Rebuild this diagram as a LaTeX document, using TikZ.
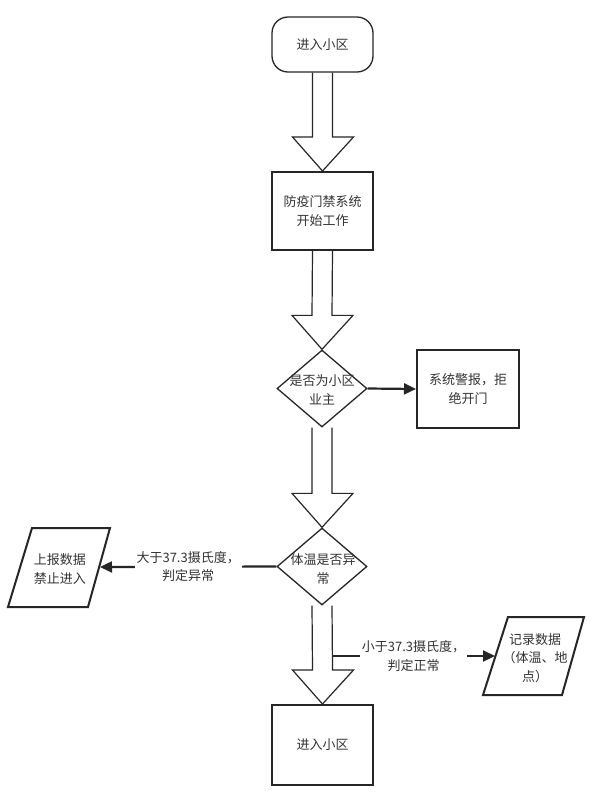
\documentclass[tikz,border=0pt]{standalone}
\usepackage{fontspec}
\setmainfont{Noto Sans CJK SC}
\usetikzlibrary{shapes.geometric,calc,arrows.meta}
\definecolor{linec}{HTML}{262626}
\definecolor{txtc}{HTML}{333333}
\tikzset{
  txt/.style={font=\fontsize{13}{18.5}\selectfont, text=txtc, align=center, inner sep=0pt},
  box/.style={draw=linec, line width=2pt, minimum width=101pt, minimum height=78pt, inner sep=0pt, txt},
  term/.style={draw=linec, line width=1.3pt, rounded corners=16pt, minimum width=101pt, minimum height=55pt, inner sep=0pt, txt},
  dia/.style={diamond, draw=linec, line width=1.3pt, minimum width=90pt, minimum height=77pt, inner sep=0pt},
  barrow/.style={draw=linec, line width=1.2pt, line join=miter},
  conn/.style={draw=linec, line width=2.2pt, -{Triangle[length=12pt,width=11pt]}},
  lbl/.style={txt, fill=white, inner xsep=2pt, inner ysep=1pt},
  para/.style={draw=linec, line width=2pt, line join=miter}
}
\newcommand\blockarr[2]{%
  \draw[barrow] ($(#1.south)+(-10,0)$) -- ($(#2.north)+(-10,-34)$) -- ($(#2.north)+(-30,-34)$) -- (#2.north) -- ($(#2.north)+(31,-34)$) -- ($(#2.north)+(10,-34)$) -- ($(#1.south)+(10,0)$);}
\begin{document}
\begin{tikzpicture}[x=1pt,y=-1pt]
\useasboundingbox (0,0) rectangle (593,812);
\fill[white] (0,0) rectangle (593,812);

\node[term] (start) at (322.5,44.5) {进入小区};
\node[box] (sys) at (322.5,211) {防疫门禁系统\\开始工作};
\node[dia] (d1) at (322,388.5) {};
\node[txt] (d1t) at (322,390) {是否为小区\\业主};
\node[box, minimum width=102pt] (alarm) at (468,389) {系统警报，拒\\绝开门};
\node[dia] (d2) at (322,566.5) {};
\node[txt] (d2t) at (323,569) {体温是否异\\常};
\node[box, minimum height=80pt] (enter) at (322.5,745) {进入小区};

% left parallelogram
\draw[para] (32,528) -- (110,528) -- (88,607) -- (8,607) -- cycle;
\node[txt] (rep) at (60,569) {上报数据\\禁止进入};
\coordinate (repE) at (100,567);
% right parallelogram
\draw[para] (508,617) -- (584,617) -- (562,695) -- (483,695) -- cycle;
\node[txt] (rec) at (535,658) {记录数据\\（体温、地\\点）};
\coordinate (recW) at (495,656);

\blockarr{start}{sys}
\blockarr{sys}{d1}
\blockarr{d1}{d2}
\blockarr{d2}{enter}

\draw[conn] (d1.east) -- (alarm.west);
\draw[conn] (d2.west) -- node[lbl, pos=0.5] (l1) {大于37.3摄氏度，\\判定异常} (repE);
\coordinate (br) at (332,656);
\draw[conn] (br) -- node[lbl, pos=0.5] (l2) {小于37.3摄氏度，\\判定正常} (recW);
\end{tikzpicture}
\end{document}
